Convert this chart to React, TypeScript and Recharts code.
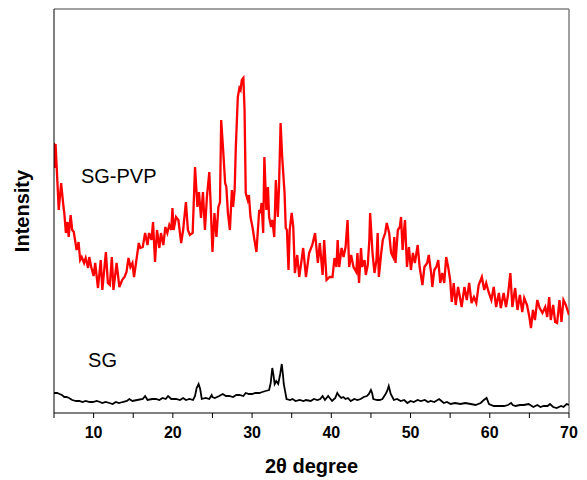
import React from 'react';
import { LineChart, Line, XAxis, YAxis, ReferenceLine, ReferenceDot } from 'recharts';

// SG-PVP (red) trace: 2θ in degrees, intensity in arbitrary units
const pvpTheta = [
  5.0, 5.1, 5.2, 5.6, 5.9, 6.2, 6.3, 6.5, 6.7, 6.85, 7.1, 7.3, 7.5, 7.85, 8.1, 8.3, 8.5, 8.8, 9.0, 9.3,
  9.45, 9.7, 10.0, 10.2, 10.55, 10.9, 11.1, 11.55, 11.8, 12.05, 12.3, 12.5, 12.9, 13.25, 13.6, 13.9, 14.15, 14.4, 14.65, 14.9,
  15.1, 15.35, 15.7, 15.9, 16.2, 16.5, 16.8, 17.0, 17.3, 17.5, 17.75, 18.0, 18.3, 18.5, 18.8, 19.05, 19.3, 19.55, 19.8, 19.95,
  20.1, 20.4, 20.7, 21.05, 21.3, 21.65, 21.9, 22.15, 22.5, 22.8, 23.1, 23.3, 23.55, 23.8, 24.05, 24.3, 24.6, 24.75, 25.0, 25.25,
  25.5, 25.75, 25.95, 26.1, 26.35, 26.6, 26.75, 26.95, 27.2, 27.45, 27.6, 27.8, 27.95, 28.2, 28.4, 28.55, 28.7, 28.9, 29.05, 29.2,
  29.45, 29.6, 29.8, 30.05, 30.3, 30.55, 30.9, 31.05, 31.2, 31.4, 31.55, 31.8, 32.0, 32.15, 32.4, 32.55, 32.8, 33.0, 33.25, 33.4,
  33.6, 33.8, 34.1, 34.25, 34.4, 34.6, 34.75, 35.0, 35.2, 35.4, 35.7, 35.95, 36.2, 36.45, 36.8, 37.2, 37.6, 37.95, 38.3, 38.55,
  38.9, 39.1, 39.4, 39.8, 40.15, 40.4, 40.65, 40.8, 41.0, 41.3, 41.55, 41.8, 42.05, 42.25, 42.5, 42.8, 43.15, 43.3, 43.5, 43.75,
  43.9, 44.2, 44.35, 44.6, 44.8, 44.9, 45.2, 45.45, 45.7, 45.85, 46.0, 46.3, 46.5, 46.8, 47.0, 47.3, 47.55, 47.8, 47.95, 48.1,
  48.4, 48.65, 48.8, 49.0, 49.15, 49.3, 49.55, 49.8, 50.05, 50.3, 50.55, 50.9, 51.15, 51.5, 51.75, 52.1, 52.3, 52.6, 52.75, 53.0,
  53.25, 53.5, 53.75, 54.0, 54.25, 54.5, 54.75, 55.0, 55.2, 55.45, 55.7, 56.0, 56.45, 56.8, 57.1, 57.4, 57.7, 58.0, 58.3, 58.6,
  59.0, 59.3, 59.55, 59.85, 60.2, 60.5, 60.8, 61.15, 61.4, 61.75, 62.05, 62.3, 62.6, 62.85, 63.2, 63.5, 63.8, 64.1, 64.35, 64.7,
  65.0, 65.2, 65.45, 65.7, 66.0, 66.3, 66.65, 67.0, 67.25, 67.5, 67.7, 68.0, 68.25, 68.5, 68.8, 69.05, 69.3, 69.6, 70.0,
];
const pvpIntensity = [
  270, 245, 269, 203, 230, 206, 200, 180, 191, 176, 198, 183, 181, 163, 171, 153, 156, 150, 155, 145,
  156, 146, 137, 150, 125, 153, 123, 161, 130, 128, 156, 123, 150, 126, 133, 136, 141, 155, 146, 150,
  136, 150, 170, 165, 166, 180, 168, 180, 173, 191, 151, 183, 165, 180, 168, 186, 180, 188, 183, 205,
  183, 196, 193, 170, 183, 211, 183, 178, 180, 246, 206, 221, 195, 221, 183, 216, 241, 213, 161, 200,
  176, 206, 211, 293, 263, 230, 226, 200, 183, 223, 206, 223, 266, 316, 325, 323, 333, 335, 303, 220,
  213, 218, 196, 186, 173, 161, 203, 200, 210, 180, 256, 203, 226, 196, 186, 193, 176, 233, 196, 226,
  290, 256, 220, 185, 183, 143, 183, 200, 186, 140, 158, 136, 150, 165, 136, 160, 168, 180, 150, 170,
  138, 173, 133, 136, 136, 155, 146, 173, 146, 165, 156, 166, 193, 146, 158, 146, 141, 160, 130, 165,
  146, 153, 138, 148, 173, 200, 160, 140, 153, 180, 136, 160, 173, 180, 190, 180, 160, 156, 176, 150,
  183, 186, 196, 163, 180, 193, 146, 166, 143, 160, 150, 168, 146, 128, 146, 150, 158, 140, 126, 143,
  146, 153, 130, 140, 130, 156, 146, 133, 111, 130, 108, 126, 106, 126, 113, 130, 110, 116, 110, 128,
  136, 123, 130, 121, 113, 126, 106, 120, 105, 120, 106, 118, 140, 106, 125, 103, 118, 101, 115, 108,
  96, 85, 103, 93, 113, 105, 100, 106, 96, 116, 93, 108, 91, 90, 113, 91, 113, 108, 98,
];

// SG (black) trace
const sgTheta = [
  5.0, 5.4, 5.7, 6.0, 6.3, 6.6, 6.9, 7.3, 7.8, 8.2, 8.6, 9.0, 9.5, 9.9, 10.4, 10.8, 11.1, 11.5, 12.0, 12.4,
  12.8, 13.2, 13.65, 14.2, 14.5, 14.9, 15.5, 16.2, 16.5, 16.8, 17.4, 17.85, 18.3, 18.7, 19.1, 19.4, 19.8, 20.4, 20.9, 21.3,
  21.65, 22.1, 22.55, 22.8, 23.0, 23.25, 23.45, 23.65, 24.15, 24.6, 24.9, 25.0, 25.3, 25.85, 26.3, 26.7, 27.1, 27.6, 28.0, 28.4,
  28.9, 29.2, 29.6, 30.0, 30.4, 30.9, 31.3, 31.7, 32.15, 32.35, 32.55, 32.7, 32.85, 33.05, 33.3, 33.55, 33.75, 33.9, 34.0, 34.35,
  34.8, 35.1, 35.5, 36.0, 36.5, 36.8, 37.4, 37.8, 38.25, 38.6, 38.9, 39.2, 39.6, 39.9, 40.1, 40.5, 40.75, 41.0, 41.25, 41.5,
  41.8, 42.1, 42.45, 42.9, 43.3, 43.7, 44.1, 44.5, 44.75, 45.0, 45.15, 45.3, 45.8, 46.1, 46.45, 46.85, 47.05, 47.25, 47.5, 47.9,
  48.3, 48.75, 49.2, 49.6, 50.0, 50.4, 50.9, 51.3, 51.8, 52.2, 52.55, 53.0, 53.6, 53.9, 54.2, 54.6, 55.05, 55.6, 56.3, 56.9,
  57.6, 58.2, 58.85, 59.25, 59.6, 59.9, 60.5, 61.2, 61.8, 62.3, 62.7, 62.9, 63.25, 63.8, 64.3, 64.9, 65.5, 66.0, 66.4, 66.8,
  67.3, 67.6, 68.0, 68.45, 69.0, 69.3, 69.7, 70.0,
];
const sgIntensity = [
  20, 20, 19, 18, 16, 16, 15, 13, 12, 12, 11, 12, 11, 11, 12, 11, 10, 11, 10, 9,
  11, 10, 11, 12, 14, 12, 13, 14, 17, 13, 14, 14, 13, 15, 14, 17, 14, 14, 13, 15,
  13, 14, 13, 17, 25, 29, 24, 14, 15, 14, 18, 16, 15, 17, 19, 17, 17, 16, 18, 18,
  17, 20, 19, 19, 20, 20, 21, 22, 23, 30, 45, 38, 29, 32, 29, 39, 49, 38, 29, 14,
  13, 14, 12, 13, 12, 13, 12, 14, 13, 14, 17, 13, 17, 14, 12, 15, 20, 17, 15, 16,
  14, 15, 12, 14, 13, 14, 16, 17, 19, 23, 20, 14, 13, 13, 14, 19, 22, 27, 19, 13,
  14, 12, 13, 10, 12, 11, 13, 12, 13, 11, 12, 11, 14, 12, 10, 11, 9, 10, 9, 10,
  9, 8, 10, 13, 15, 9, 7, 7, 7, 8, 10, 8, 7, 8, 8, 9, 6, 8, 6, 7,
  7, 9, 6, 5, 7, 6, 9, 8,
];

const xTicks = [5, 10, 15, 20, 25, 30, 35, 40, 45, 50, 55, 60, 65, 70];

const pvpData = pvpTheta.map((t, i) => ({ theta: t, value: pvpIntensity[i] }));
const sgData = sgTheta.map((t, i) => ({ theta: t, value: sgIntensity[i] }));

const FONT = '"Liberation Sans", Arial, sans-serif';

export default function App() {
  return (
    <div style={{ position: 'absolute', left: 0, top: 0, background: '#fff' }}>
      <LineChart width={587} height={480} margin={{ top: 9, right: 18, left: 0, bottom: 0 }}>
        <XAxis
          dataKey="theta"
          type="number"
          domain={[5, 70]}
          ticks={xTicks}
          allowDataOverflow
          interval={0}
          height={67}
          tickSize={5}
          tickMargin={9}
          stroke="#000"
          tickFormatter={(v: number) => (v % 10 === 0 ? String(v) : '')}
          tick={{ fill: '#000', fontSize: 16, fontWeight: 'bold', fontFamily: FONT }}
          label={{
            value: '2θ degree',
            position: 'insideBottom',
            offset: 7,
            fill: '#000',
            style: { fontSize: 20, fontWeight: 'bold', fontFamily: FONT },
          }}
        />
        <YAxis
          type="number"
          domain={[0, 404]}
          allowDataOverflow
          width={54}
          tick={false}
          tickLine={false}
          stroke="#000"
          label={{
            value: 'Intensity',
            angle: -90,
            position: 'center',
            dx: -5,
            fill: '#000',
            style: { fontSize: 20, fontWeight: 'bold', fontFamily: FONT },
          }}
        />
        <ReferenceLine y={404} stroke="#808080" strokeWidth={1.5} />
        <ReferenceLine x={70} stroke="#808080" strokeWidth={1.5} />
        <Line
          data={pvpData}
          dataKey="value"
          type="linear"
          stroke="#ff0000"
          strokeWidth={2.3}
          dot={false}
          isAnimationActive={false}
        />
        <Line
          data={sgData}
          dataKey="value"
          type="linear"
          stroke="#000"
          strokeWidth={1.8}
          dot={false}
          isAnimationActive={false}
        />
        <ReferenceDot
          x={13.17}
          y={237}
          r={0}
          label={{ value: 'SG-PVP', position: 'center', fill: '#000', style: { fontSize: 20, fontFamily: FONT } }}
        />
        <ReferenceDot
          x={11.13}
          y={53}
          r={0}
          label={{ value: 'SG', position: 'center', fill: '#000', style: { fontSize: 20, fontFamily: FONT } }}
        />
      </LineChart>
    </div>
  );
}
